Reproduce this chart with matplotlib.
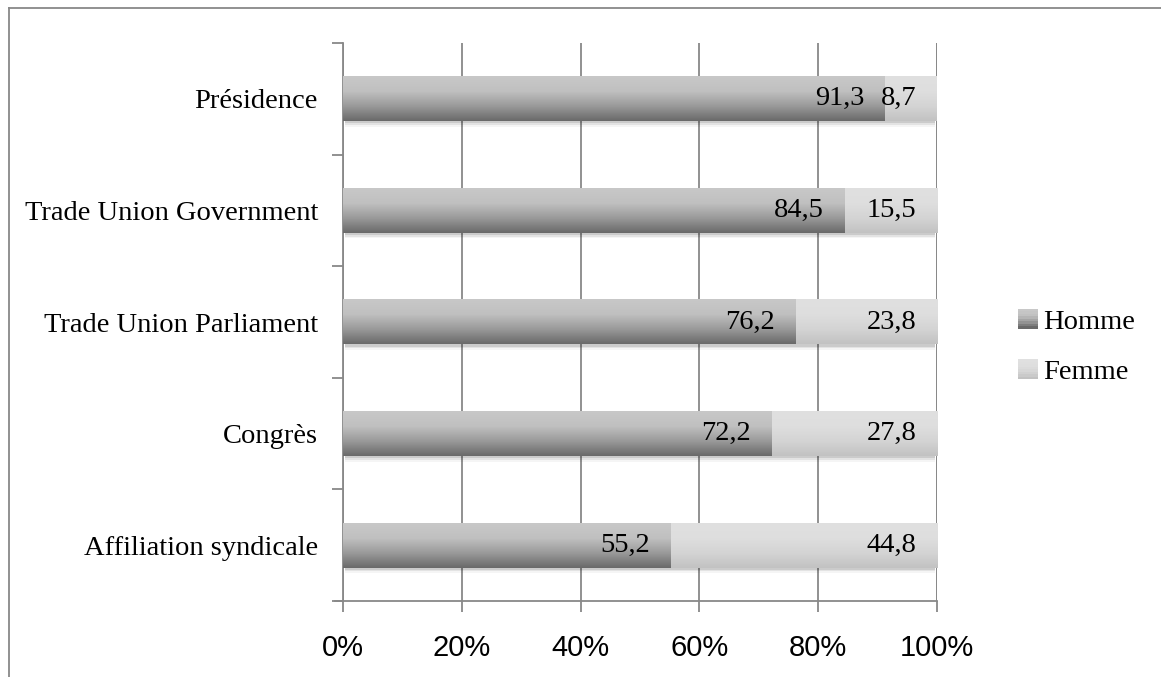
import numpy as np
import matplotlib.pyplot as plt
from matplotlib.patches import Rectangle
from matplotlib.colors import LinearSegmentedColormap
from matplotlib.legend_handler import HandlerBase

categories = ["Affiliation syndicale", "Congrès", "Trade Union Parliament",
              "Trade Union Government", "Présidence"]
homme = [55.2, 72.2, 76.2, 84.5, 91.3]
femme = [44.8, 27.8, 23.8, 15.5, 8.7]
series_names = ["Homme", "Femme"]
xticks = [0, 20, 40, 60, 80, 100]

homme_cmap = LinearSegmentedColormap.from_list("h", ["#6a6a6a", "#9a9a9a", "#c0c0c0", "#c8c8c8"])
femme_cmap = LinearSegmentedColormap.from_list("f", ["#c2c2c2", "#d4d4d4", "#dedede", "#e0e0e0"])
grad = np.linspace(0, 1, 64).reshape(-1, 1)

fig = plt.figure(figsize=(11.61, 6.77), dpi=100)
ax = fig.add_axes([343 / 1161, 1 - 601 / 677, 594 / 1161, 558 / 677])

y = np.arange(len(categories))
h = 0.4
bars_h = ax.barh(y, homme, height=h, color="none", zorder=3)
bars_f = ax.barh(y, femme, left=homme, height=h, color="none", zorder=3)

for bars, cmap in [(bars_h, homme_cmap), (bars_f, femme_cmap)]:
    for p in bars:
        x0, y0 = p.get_x(), p.get_y()
        w, hh = p.get_width(), p.get_height()
        ax.imshow(grad, cmap=cmap, extent=(x0, x0 + w, y0, y0 + hh),
                  origin="lower", aspect="auto", zorder=3, interpolation="bilinear")

# soft shadow under each full bar
for yi in y:
    for k, a in enumerate([0.10, 0.07, 0.04]):
        off = 0.02 + k * 0.015
        ax.add_patch(Rectangle((0.3, yi - h / 2 - off), 99.4, h, color="black",
                               alpha=a, lw=0, zorder=2))

for i in range(len(categories)):
    ax.text(homme[i] - 3.5, y[i], f"{homme[i]:.1f}".replace(".", ","), ha="right",
            va="center", fontsize=20.5, family="Liberation Serif", zorder=5)
    ax.text(100 - 3.5, y[i], f"{femme[i]:.1f}".replace(".", ","), ha="right",
            va="center", fontsize=20.5, family="Liberation Serif", zorder=5)

ax.set_xlim(0, 100)
ax.set_ylim(-0.5, len(categories) - 0.5)
ax.set_xticks(xticks)
ax.set_xticklabels([f"{t}%" for t in xticks], fontsize=21, family="Liberation Sans")
ax.set_yticks(y)
ax.set_yticklabels(categories, fontsize=20.5, family="Liberation Serif")
ax.set_yticks(np.arange(-0.5, len(categories)), minor=True)
ax.tick_params(axis="y", which="major", length=0, pad=18)
ax.tick_params(axis="y", which="minor", length=8, width=1.3, color="#888888")
ax.tick_params(axis="x", length=8, width=1.3, color="#888888", pad=16)
ax.grid(axis="x", color="#888888", lw=1.3, zorder=1)
ax.set_axisbelow(True)
for s in ["top", "right"]:
    ax.spines[s].set_visible(False)
for s in ["left", "bottom"]:
    ax.spines[s].set_color("#888888")
    ax.spines[s].set_linewidth(1.3)
ax.spines["bottom"].set_bounds(-1.4, 100)
ax.axvline(100, color="#888888", lw=1.3, zorder=1)


class GradHandler(HandlerBase):
    def __init__(self, cmap):
        super().__init__()
        self.cmap = cmap

    def create_artists(self, legend, orig, xd, yd, w, hgt, fontsize, trans):
        arts = []
        n = 8
        side = hgt * 1.0
        x0 = xd + w - side
        for k in range(n):
            arts.append(Rectangle((x0, yd + side * k / n), side, side / n,
                                  facecolor=self.cmap(k / (n - 1)), lw=0, transform=trans))
        return arts


hh_ = Rectangle((0, 0), 1, 1)
hf_ = Rectangle((0, 0), 1, 1)
fig.legend([hh_, hf_], series_names, loc="center left",
           bbox_to_anchor=(992 / 1161, 1 - 347 / 677), frameon=False,
           prop={"family": "Liberation Serif", "size": 20.5},
           handler_map={hh_: GradHandler(homme_cmap), hf_: GradHandler(femme_cmap)},
           handlelength=0.7, handletextpad=0.2, labelspacing=0.85)

# outer chart frame (only top and left edges visible in image)
fig.add_artist(plt.Line2D([9 / 1161, 1.0], [1 - 8 / 677] * 2, color="#888888", lw=1.3))
fig.add_artist(plt.Line2D([9 / 1161] * 2, [0.0, 1 - 8 / 677], color="#888888", lw=1.3))

fig.savefig("out.png", dpi=100)
